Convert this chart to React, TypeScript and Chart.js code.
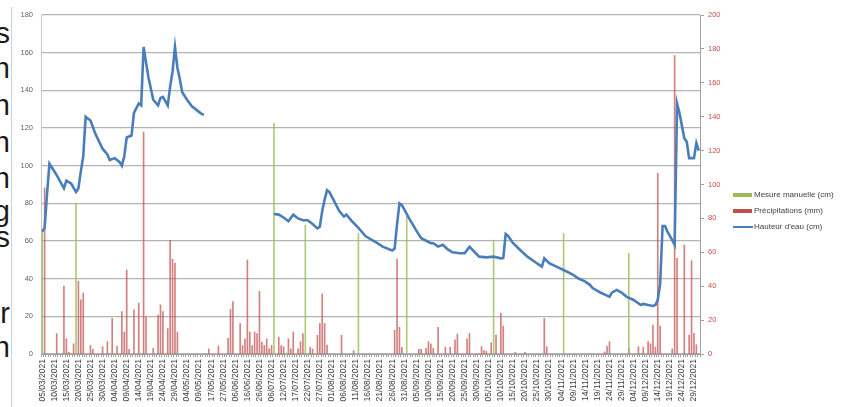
import React, { useEffect, useRef } from "react";
import { Chart, registerables } from "chart.js";

Chart.register(...registerables);

// ---------- categories (dates on the category axis) ----------
function dayLabels(startIso: string, count: number): string[] {
  const out: string[] = [];
  const d0 = new Date(startIso + "T00:00:00Z").getTime();
  for (let k = 0; k < count; k++) {
    const d = new Date(d0 + k * 86400000);
    const dd = String(d.getUTCDate()).padStart(2, "0");
    const mm = String(d.getUTCMonth() + 1).padStart(2, "0");
    out.push(`${dd}/${mm}/${d.getUTCFullYear()}`);
  }
  return out;
}

const springDays = dayLabels("2021-03-05", 68); // 05/03 .. 11/05
const gapDays = [
  "13/05/2021", "15/05/2021", "17/05/2021", "19/05/2021", "21/05/2021", "23/05/2021",
  "25/05/2021", "27/05/2021", "29/05/2021", "31/05/2021", "02/06/2021", "04/06/2021",
  "06/06/2021", "08/06/2021", "10/06/2021", "12/06/2021", "14/06/2021", "16/06/2021",
  "18/06/2021", "20/06/2021", "22/06/2021", "24/06/2021", "26/06/2021", "28/06/2021",
  "30/06/2021", "02/07/2021", "04/07/2021", "06/07/2021", "07/07/2021", "08/07/2021",
  "09/07/2021", "10/07/2021",
];
const summerDays = dayLabels("2021-07-12", 173); // 12/07 .. 31/12
const categories = [...springDays, ...gapDays, ...summerDays];

// ---------- series ----------
const waterHeight: [string, number | null][] = [
  ["05/03/2021", 65], ["06/03/2021", 67], ["07/03/2021", 85], ["08/03/2021", 101],
  ["09/03/2021", 99], ["11/03/2021", 95], ["14/03/2021", 88], ["15/03/2021", 92],
  ["17/03/2021", 90.5], ["19/03/2021", 86], ["20/03/2021", 88], ["21/03/2021", 97],
  ["22/03/2021", 105], ["23/03/2021", 126], ["25/03/2021", 124], ["27/03/2021", 117],
  ["30/03/2021", 109], ["01/04/2021", 106], ["02/04/2021", 103], ["04/04/2021", 104],
  ["06/04/2021", 102], ["07/04/2021", 100], ["08/04/2021", 105], ["09/04/2021", 115],
  ["11/04/2021", 116], ["12/04/2021", 128], ["14/04/2021", 133], ["15/04/2021", 132],
  ["16/04/2021", 163], ["17/04/2021", 155], ["18/04/2021", 147], ["20/04/2021", 135],
  ["22/04/2021", 132], ["23/04/2021", 136], ["24/04/2021", 136.5], ["26/04/2021", 132],
  ["27/04/2021", 142], ["28/04/2021", 150], ["29/04/2021", 163], ["30/04/2021", 152],
  ["01/05/2021", 146], ["02/05/2021", 139], ["04/05/2021", 135], ["06/05/2021", 131.5],
  ["08/05/2021", 129.5], ["10/05/2021", 127.5], ["11/05/2021", 127],
  ["06/07/2021", null],
  ["07/07/2021", 74.3], ["09/07/2021", 74], ["12/07/2021", 72.5], ["14/07/2021", 70.5],
  ["16/07/2021", 74], ["18/07/2021", 72], ["20/07/2021", 71], ["22/07/2021", 71],
  ["24/07/2021", 69], ["26/07/2021", 66.7], ["27/07/2021", 67.6], ["28/07/2021", 76],
  ["29/07/2021", 82], ["30/07/2021", 87], ["31/07/2021", 86], ["02/08/2021", 81],
  ["04/08/2021", 76], ["06/08/2021", 73], ["07/08/2021", 74], ["09/08/2021", 71],
  ["12/08/2021", 67], ["15/08/2021", 62.5], ["19/08/2021", 59.6], ["22/08/2021", 57],
  ["26/08/2021", 55], ["27/08/2021", 56], ["28/08/2021", 69], ["29/08/2021", 80],
  ["30/08/2021", 79], ["02/09/2021", 72], ["05/09/2021", 65.5], ["07/09/2021", 61.5],
  ["11/09/2021", 58.8], ["12/09/2021", 58.8], ["14/09/2021", 57], ["16/09/2021", 58],
  ["18/09/2021", 55.5], ["20/09/2021", 54], ["23/09/2021", 53.5], ["25/09/2021", 53.5],
  ["27/09/2021", 57], ["29/09/2021", 54.3], ["01/10/2021", 51.7], ["04/10/2021", 51.3],
  ["07/10/2021", 51.7], ["10/10/2021", 50.8], ["11/10/2021", 51], ["12/10/2021", 63.7],
  ["13/10/2021", 62.7], ["15/10/2021", 59], ["18/10/2021", 55.2], ["21/10/2021", 51.7],
  ["24/10/2021", 49], ["27/10/2021", 46.4], ["28/10/2021", 50.8], ["30/10/2021", 48.2],
  ["02/11/2021", 46.4], ["05/11/2021", 44.6], ["09/11/2021", 42], ["11/11/2021", 40.2],
  ["14/11/2021", 38.4], ["16/11/2021", 36.6], ["17/11/2021", 35], ["20/11/2021", 32.8],
  ["23/11/2021", 31], ["24/11/2021", 30.4], ["25/11/2021", 32.6], ["27/11/2021", 34],
  ["29/11/2021", 32.6], ["01/12/2021", 30.5], ["04/12/2021", 28.7], ["07/12/2021", 26],
  ["08/12/2021", 26.6], ["10/12/2021", 26], ["12/12/2021", 25.5], ["13/12/2021", 26],
  ["14/12/2021", 28.7], ["15/12/2021", 37.5], ["16/12/2021", 68], ["17/12/2021", 68],
  ["18/12/2021", 65], ["20/12/2021", 60.5], ["21/12/2021", 58], ["22/12/2021", 133],
  ["23/12/2021", 128], ["25/12/2021", 114.5], ["26/12/2021", 112.7], ["27/12/2021", 104],
  ["29/12/2021", 104], ["30/12/2021", 112], ["31/12/2021", 108],
];

const precipitation: [string, number][] = [
  ["06/03/2021", 98], ["11/03/2021", 12], ["14/03/2021", 40], ["15/03/2021", 9],
  ["16/03/2021", 1], ["18/03/2021", 6], ["20/03/2021", 43], ["21/03/2021", 32],
  ["22/03/2021", 36], ["25/03/2021", 5], ["26/03/2021", 2.7], ["30/03/2021", 4.3],
  ["01/04/2021", 7.3], ["03/04/2021", 21], ["05/04/2021", 4.7], ["07/04/2021", 25],
  ["08/04/2021", 13], ["09/04/2021", 49.6], ["10/04/2021", 2.7], ["12/04/2021", 26],
  ["14/04/2021", 30], ["16/04/2021", 131], ["17/04/2021", 22], ["20/04/2021", 3.3],
  ["22/04/2021", 23], ["23/04/2021", 29], ["24/04/2021", 25], ["26/04/2021", 15],
  ["27/04/2021", 67], ["28/04/2021", 56], ["29/04/2021", 53.5], ["30/04/2021", 13],
  ["15/05/2021", 3], ["23/05/2021", 4.7], ["31/05/2021", 9.2], ["02/06/2021", 26.4],
  ["04/06/2021", 31], ["10/06/2021", 18], ["12/06/2021", 5], ["14/06/2021", 9],
  ["16/06/2021", 55.5], ["18/06/2021", 13], ["20/06/2021", 5], ["22/06/2021", 13],
  ["24/06/2021", 12], ["26/06/2021", 37], ["28/06/2021", 7], ["30/06/2021", 5],
  ["02/07/2021", 9], ["04/07/2021", 3], ["06/07/2021", 5], ["09/07/2021", 10],
  ["10/07/2021", 5], ["12/07/2021", 4.3], ["14/07/2021", 9], ["15/07/2021", 3],
  ["16/07/2021", 13], ["18/07/2021", 3], ["19/07/2021", 7.3], ["20/07/2021", 12],
  ["23/07/2021", 4], ["24/07/2021", 3], ["26/07/2021", 11], ["27/07/2021", 18],
  ["28/07/2021", 35.4], ["29/07/2021", 18], ["30/07/2021", 5.3], ["05/08/2021", 11],
  ["10/08/2021", 2], ["27/08/2021", 14], ["28/08/2021", 56], ["29/08/2021", 15.7],
  ["30/08/2021", 4], ["06/09/2021", 2.8], ["07/09/2021", 2.8], ["09/09/2021", 3.3],
  ["10/09/2021", 7.3], ["11/09/2021", 6], ["12/09/2021", 3.3], ["14/09/2021", 15.7],
  ["17/09/2021", 4], ["19/09/2021", 4], ["21/09/2021", 8.3], ["22/09/2021", 11.8],
  ["26/09/2021", 9], ["27/09/2021", 12.2], ["02/10/2021", 4.3], ["03/10/2021", 2],
  ["04/10/2021", 1.5], ["06/10/2021", 6.7], ["08/10/2021", 11.2], ["10/10/2021", 24],
  ["11/10/2021", 16.5], ["16/10/2021", 1], ["20/10/2021", 1], ["28/10/2021", 21],
  ["29/10/2021", 4.3], ["22/11/2021", 1.2], ["23/11/2021", 4.7], ["24/11/2021", 7.3],
  ["02/12/2021", 3.3], ["06/12/2021", 4.3], ["08/12/2021", 4], ["10/12/2021", 7.3],
  ["11/12/2021", 6], ["12/12/2021", 17], ["13/12/2021", 4], ["14/12/2021", 106.6],
  ["15/12/2021", 16.5], ["20/12/2021", 3], ["21/12/2021", 176], ["22/12/2021", 56.4],
  ["25/12/2021", 64.3], ["27/12/2021", 11.2], ["28/12/2021", 55], ["29/12/2021", 12.2],
  ["30/12/2021", 5.5],
];

const manualMeasure: [string, number][] = [
  ["05/03/2021", 65], ["19/03/2021", 80], ["07/07/2021", 122.5], ["21/07/2021", 68.5],
  ["12/08/2021", 64], ["01/09/2021", 73], ["07/10/2021", 60.5], ["05/11/2021", 64],
  ["02/12/2021", 53.5],
];

const seriesNames = ["Mesure manuelle (cm)", "Précipitations (mm)", "Hauteur d'eau (cm)"];
const leftTicks = { min: 0, max: 180, step: 20 };
const rightTicks = { min: 0, max: 200, step: 20 };

// clipped words of a neighbouring paragraph (only their last letters are visible)
const sideLetters = ["s", "n", "n", "n", "n", "g", "s", "r", "n"];
const sideBaselines = [43, 78, 115, 152, 188, 221, 247, 323, 357];

const COLORS = {
  blue: "#4a7ebb",
  red: "rgba(192,80,77,0.72)",
  green: "rgba(155,187,89,0.8)",
  grid: "#b4b4b4",
  text: "#404040",
};

export default function App() {
  const ref = useRef<HTMLCanvasElement>(null);

  useEffect(() => {
    const font = "'Liberation Sans', Arial, sans-serif";
    const chart = new Chart(ref.current!, {
      type: "bar",
      data: {
        labels: categories,
        datasets: [
          {
            type: "line",
            label: seriesNames[2],
            data: waterHeight.map(([x, y]) => ({ x, y })) as any,
            borderColor: COLORS.blue,
            backgroundColor: COLORS.blue,
            borderWidth: 2.6,
            pointRadius: 0,
            tension: 0,
            spanGaps: false,
            yAxisID: "y",
            order: 0,
          } as any,
          {
            type: "bar",
            label: seriesNames[0],
            data: manualMeasure.map(([x, y]) => ({ x, y })) as any,
            backgroundColor: COLORS.green,
            barThickness: 1,
            grouped: false,
            yAxisID: "y",
            order: 1,
          } as any,
          {
            type: "bar",
            label: seriesNames[1],
            data: precipitation.map(([x, y]) => ({ x, y })) as any,
            backgroundColor: COLORS.red,
            barThickness: 1,
            grouped: false,
            yAxisID: "y1",
            order: 2,
          } as any,
        ],
      },
      options: {
        animation: false,
        responsive: false,
        devicePixelRatio: 1,
        layout: { padding: { top: 15, left: 0, right: 0, bottom: 0 } },
        plugins: { legend: { display: false }, tooltip: { enabled: false } },
        scales: {
          x: {
            type: "category",
            offset: true,
            grid: { drawOnChartArea: false, drawTicks: true, tickLength: 3, color: "#a0a0a0" },
            border: { color: "#a0a0a0" },
            ticks: {
              autoSkip: false,
              maxRotation: 90,
              minRotation: 90,
              padding: 2,
              color: COLORS.text,
              font: { size: 8.5, family: font },
              callback: function (this: any, value: any, index: number) {
                return index % 5 === 0 ? this.getLabelForValue(value) : "";
              },
            },
            afterFit: (s: any) => {
              s.height = 53;
            },
          },
          y: {
            position: "left",
            min: leftTicks.min,
            max: leftTicks.max,
            grid: { color: COLORS.grid, lineWidth: 1.2, drawTicks: false },
            border: { color: "#c8c8c8" },
            ticks: {
              stepSize: leftTicks.step,
              padding: 8,
              color: "#5a6470",
              font: { size: 7.5, family: font },
            },
            afterFit: (s: any) => {
              s.width = 41;
            },
          },
          y1: {
            position: "right",
            min: rightTicks.min,
            max: rightTicks.max,
            grid: { drawOnChartArea: false, drawTicks: true, tickLength: 4, color: "#a0a0a0" },
            border: { color: "#a0a0a0" },
            ticks: {
              stepSize: rightTicks.step,
              padding: 4,
              color: "#c0504d",
              font: { size: 7.5, family: font },
            },
            afterFit: (s: any) => {
              s.width = 145;
            },
          },
        },
      },
    });
    return () => chart.destroy();
  }, []);

  const legendRow = (top: number, swatch: React.ReactNode, text: string) => (
    <div
      style={{
        position: "absolute",
        left: 733,
        top,
        height: 12,
        display: "flex",
        alignItems: "center",
        whiteSpace: "nowrap",
      }}
    >
      <div style={{ width: 20, display: "flex", alignItems: "center" }}>{swatch}</div>
      <span style={{ fontSize: 8, color: COLORS.text, marginLeft: 1, lineHeight: "12px" }}>{text}</span>
    </div>
  );

  return (
    <div
      style={{
        position: "absolute",
        left: 0,
        top: 0,
        width: 845,
        height: 407,
        overflow: "hidden",
        background: "#fff",
        fontFamily: "'Liberation Sans', Arial, sans-serif",
      }}
    >
      {sideLetters.map((ch, i) => (
        <div
          key={i}
          style={{
            position: "absolute",
            left: -100,
            width: 110,
            top: sideBaselines[i] - 24,
            fontSize: 29,
            lineHeight: "29px",
            textAlign: "right",
            color: "#1a1a1a",
          }}
        >
          {ch}
        </div>
      ))}
      <div style={{ position: "absolute", left: 11, top: 7, width: 1, height: 400, background: "#c9d3de" }} />
      <canvas ref={ref} width={845} height={407} style={{ position: "absolute", left: 0, top: 0 }} />
      {legendRow(189, <div style={{ width: 19, height: 4, background: "#9bbb59" }} />, seriesNames[0])}
      {legendRow(205, <div style={{ width: 19, height: 4, background: "#c0504d" }} />, seriesNames[1])}
      {legendRow(221, <div style={{ width: 20, height: 2, background: COLORS.blue }} />, seriesNames[2])}
    </div>
  );
}
